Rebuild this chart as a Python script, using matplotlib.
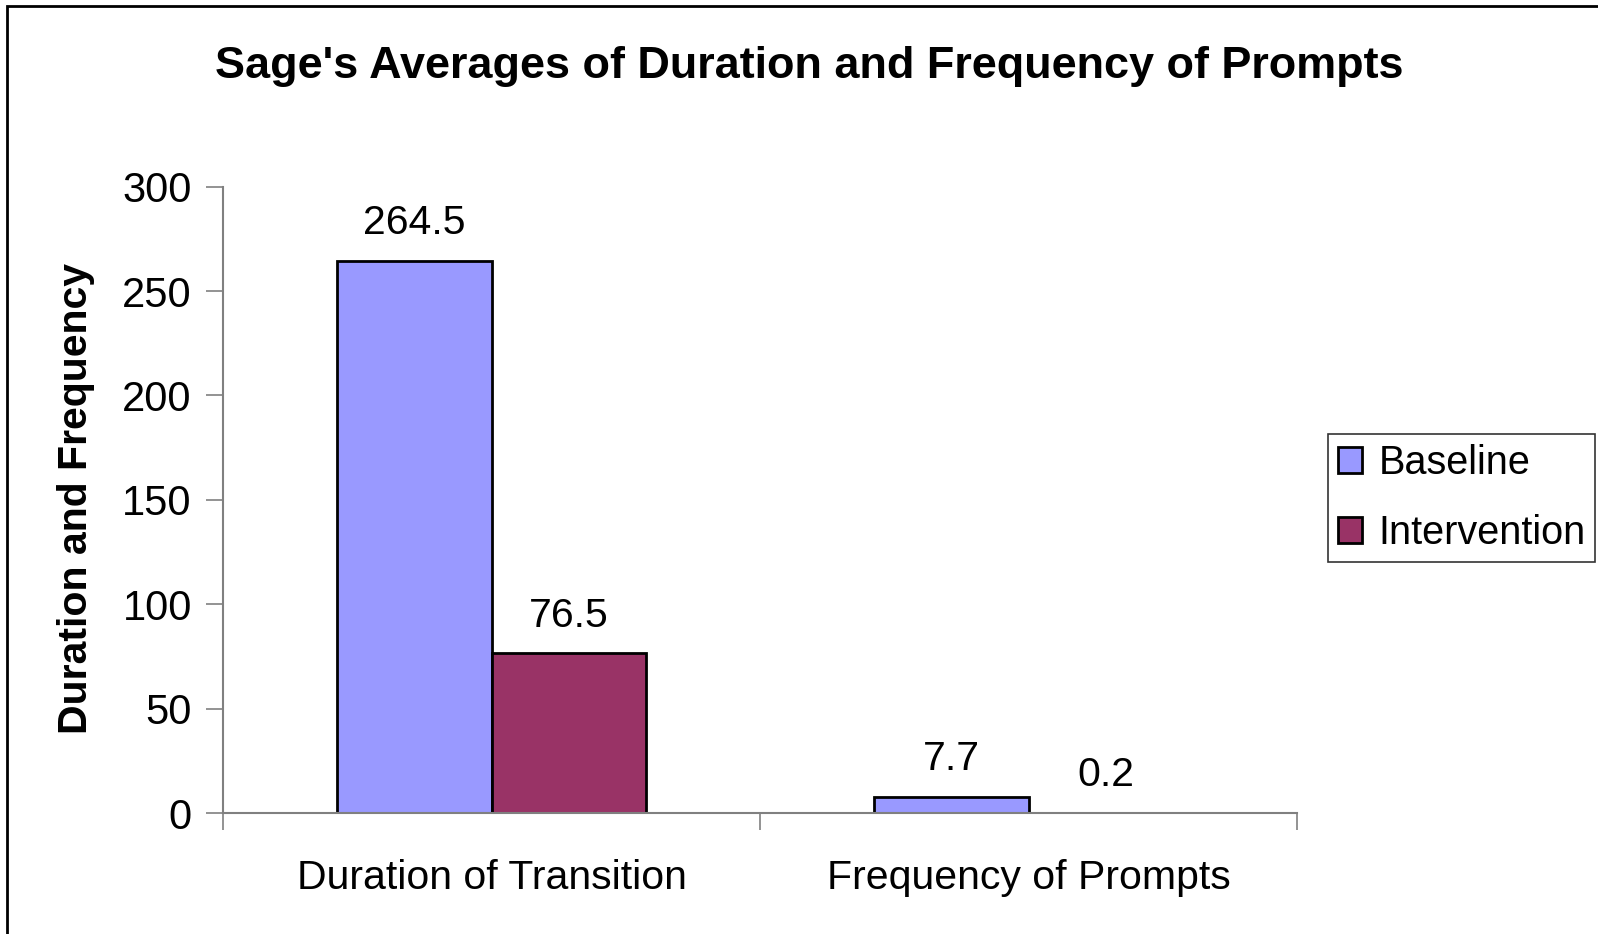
import numpy as np
import matplotlib.pyplot as plt
from matplotlib.patches import Rectangle

categories = ['Duration of Transition', 'Frequency of Prompts']
series_names = ['Baseline', 'Intervention']
baseline = [264.5, 7.7]
intervention = [76.5, 0.2]
y_ticks = [0, 50, 100, 150, 200, 250, 300]

colors = ['#9999FF', '#993366']

plt.rcParams['font.family'] = ['Liberation Sans', 'DejaVu Sans']

fig = plt.figure(figsize=(15.98, 9.34), dpi=100)
ax = fig.add_axes([0.1396, 0.1295, 0.6721, 0.6707])

x = np.arange(len(categories))
w = 0.288
for i, (vals, name) in enumerate(zip([baseline, intervention], series_names)):
    pos = x + (i - 0.5) * w
    bars = ax.bar(pos, vals, width=w, color=colors[i], edgecolor='black',
                  linewidth=2, label=name, zorder=2)
    for b, v in zip(bars, vals):
        ax.annotate(f'{v:g}', (b.get_x() + b.get_width() / 2, v),
                    xytext=(0, 27), textcoords='offset points',
                    ha='center', va='center', fontsize=29.5)

ax.set_xlim(-0.5, 1.5)
ax.set_ylim(0, 300)
ax.set_yticks(y_ticks)
ax.set_xticks(x)
ax.set_xticklabels(categories, fontsize=29.5)
ax.tick_params(axis='x', length=0, pad=33)
ax.set_xticks([-0.5, 0.5, 1.5], minor=True)
ax.tick_params(axis='x', which='minor', length=12, width=1.2, color='#808080', direction='out')
ax.tick_params(axis='y', labelsize=30, length=12, width=1.2, color='#808080', pad=10.5)

for s in ['top', 'right']:
    ax.spines[s].set_visible(False)
for s in ['left', 'bottom']:
    ax.spines[s].set_color('#808080')
    ax.spines[s].set_linewidth(1.5)

fig.text(76 / 1598, 1 - 498 / 934, 'Duration and Frequency', rotation=90,
         ha='center', va='center', fontsize=29.5, fontweight='bold')
fig.text(0.5064, 0.929, "Sage's Averages of Duration and Frequency of Prompts",
         ha='center', va='center', fontsize=32.4, fontweight='bold')

leg = ax.legend(loc='center left', bbox_to_anchor=(1328 / 1598, 0.467),
                bbox_transform=fig.transFigure, fontsize=28.5, frameon=True,
                fancybox=False, edgecolor='black', handlelength=0.62,
                handleheight=0.62, handletextpad=0.4, borderpad=0.25,
                labelspacing=0.8, borderaxespad=0)
leg.get_frame().set_linewidth(1.2)

fig.patches.append(Rectangle((7 / 1598, -0.1), 1.2, 1 - 6 / 934 + 0.1,
                             transform=fig.transFigure, fill=False,
                             edgecolor='black', linewidth=2))

fig.savefig('out.png', dpi=100)
